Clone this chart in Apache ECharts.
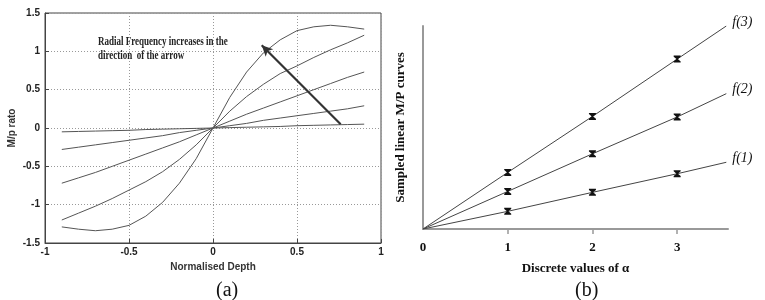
<!DOCTYPE html>
<html>
<head>
<meta charset="utf-8">
<script src="https://cdn.jsdelivr.net/npm/echarts@6/dist/echarts.min.js"></script>
<style>
  html, body { margin: 0; padding: 0; background: #fff; }
  #chart { width: 765px; height: 300px; }
</style>
</head>
<body>
<div id="chart"></div>
<script>
// panel (a): M/p ratio against normalised depth, one curve per radial frequency
const depth = [-0.9, -0.8, -0.7, -0.6, -0.5, -0.4, -0.3, -0.2, -0.1, 0, 0.1, 0.2, 0.3, 0.4, 0.5, 0.6, 0.7, 0.8, 0.9];
const curve1 = [-0.05, -0.045, -0.04, -0.035, -0.03, -0.02, -0.015, -0.01, -0.005, 0, 0.005, 0.01, 0.015, 0.02, 0.03, 0.035, 0.04, 0.045, 0.05];
const curve2 = [-0.28, -0.25, -0.22, -0.19, -0.16, -0.13, -0.10, -0.06, -0.03, 0, 0.03, 0.06, 0.10, 0.13, 0.16, 0.19, 0.22, 0.25, 0.29];
const curve3 = [-0.72, -0.65, -0.58, -0.50, -0.42, -0.34, -0.26, -0.18, -0.09, 0, 0.09, 0.18, 0.26, 0.34, 0.42, 0.50, 0.58, 0.66, 0.73];
const curve4 = [-1.20, -1.11, -1.02, -0.92, -0.81, -0.70, -0.57, -0.41, -0.22, 0, 0.22, 0.41, 0.57, 0.71, 0.81, 0.92, 1.02, 1.11, 1.21];
const curve5 = [-1.29, -1.32, -1.34, -1.32, -1.27, -1.15, -0.97, -0.72, -0.40, 0, 0.40, 0.73, 0.98, 1.15, 1.27, 1.32, 1.34, 1.32, 1.29];
const arrowFrom = [0.76, 0.05];
const arrowTo = [0.29, 1.08];

// panel (b): sampled linear M/P curves against discrete alpha
const alpha = [0, 1, 2, 3, 3.58];
const f1 = [0, 0.94, 1.95, 2.94, 3.55];
const f2 = [0, 2.0, 4.0, 5.96, 7.2];
const f3 = [0, 3.01, 5.99, 9.04, 10.8];
const alphaTicks = [1, 2, 3];
const alphaLabels = [0, 1, 2, 3];

const sans = "Liberation Sans, Arial, sans-serif";
const serif = "Liberation Serif, Times New Roman, serif";

// filled hourglass marker with bars top and bottom
const xMark = "path://M0,0L10,0L10,1.6L6,5L10,8.4L10,10L0,10L0,8.4L4,5L0,1.6Z";

const pairs = (xs, ys) => xs.map((x, i) => [x, ys[i]]);

const chart = echarts.init(document.getElementById("chart"), null, { renderer: "canvas" });

const curveSeries = [curve1, curve2, curve3, curve4, curve5].map((c, i) => ({
  name: "c" + (i + 1),
  type: "line",
  xAxisIndex: 0,
  yAxisIndex: 0,
  data: pairs(depth, c),
  showSymbol: false,
  smooth: false,
  lineStyle: { color: "#555", width: 1 },
  silent: true,
  z: 3,
}));
// arrow rides on the last curve as a markLine
curveSeries[4].markLine = {
  silent: true,
  symbol: ["none", "arrow"],
  symbolSize: [8, 11],
  label: { show: false },
  lineStyle: { color: "#333", width: 2.2, type: "solid" },
  data: [[{ coord: arrowFrom }, { coord: arrowTo }]],
};

const sampled = [
  { name: "f(1)", ys: f1 },
  { name: "f(2)", ys: f2 },
  { name: "f(3)", ys: f3 },
].map((s) => ({
  name: s.name,
  type: "line",
  xAxisIndex: 1,
  yAxisIndex: 1,
  data: pairs(alpha, s.ys),
  symbol: (v, p) => (p.dataIndex >= 1 && p.dataIndex <= 3 ? xMark : "none"),
  symbolSize: [7, 7],
  showSymbol: true,
  itemStyle: { color: "#111" },
  lineStyle: { color: "#444", width: 1 },
  endLabel: {
    show: true,
    formatter: s.name,
    fontFamily: serif,
    fontStyle: "italic",
    fontSize: 14,
    color: "#111",
    offset: [0, -4],
    distance: 6,
  },
  silent: true,
}));

const gridDots = { show: true, lineStyle: { color: "#999", type: [1, 2], width: 1 } };

chart.setOption({
  backgroundColor: "#fff",
  animation: false,
  grid: [
    { left: 45, top: 13, width: 336, height: 230, show: true, borderColor: "#444", borderWidth: 1 },
    { left: 423, top: 26, width: 305, height: 203 },
  ],
  xAxis: [
    {
      type: "value",
      gridIndex: 0,
      min: -1,
      max: 1,
      interval: 0.5,
      name: "Normalised Depth",
      nameLocation: "middle",
      nameGap: 15,
      nameTextStyle: { fontFamily: sans, fontSize: 10, fontWeight: "bold", color: "#333" },
      axisLine: { show: true, onZero: false, lineStyle: { color: "#444", width: 1 } },
      axisTick: { show: true, inside: true, length: 4, lineStyle: { color: "#444" } },
      axisLabel: { fontFamily: sans, fontSize: 10, fontWeight: "bold", color: "#222", margin: 4 },
      splitLine: gridDots,
    },
    {
      type: "value",
      gridIndex: 1,
      min: 0,
      max: 3.6,
      interval: 1,
      name: "Discrete values of \u03b1",
      nameLocation: "middle",
      nameGap: 33,
      nameTextStyle: { fontFamily: serif, fontSize: 13, fontWeight: "bold", color: "#111" },
      axisLine: { show: true, onZero: false, lineStyle: { color: "#999", width: 2 } },
      axisTick: { show: true, length: 5, customValues: alphaTicks, lineStyle: { color: "#999", width: 1.5 } },
      axisLabel: { customValues: alphaLabels, fontFamily: serif, fontSize: 13, fontWeight: "bold", color: "#111", margin: 12 },
      splitLine: { show: false },
    },
  ],
  yAxis: [
    {
      type: "value",
      gridIndex: 0,
      min: -1.5,
      max: 1.5,
      interval: 0.5,
      name: "M/p rato",
      nameLocation: "middle",
      nameGap: 28,
      nameTextStyle: { fontFamily: sans, fontSize: 10, fontWeight: "bold", color: "#333" },
      axisLine: { show: true, onZero: false, lineStyle: { color: "#444", width: 1 } },
      axisTick: { show: true, inside: true, length: 4, lineStyle: { color: "#444" } },
      axisLabel: { fontFamily: sans, fontSize: 10, fontWeight: "bold", color: "#222", margin: 5 },
      splitLine: gridDots,
    },
    {
      type: "value",
      gridIndex: 1,
      min: 0,
      max: 10.8,
      name: "Sampled linear M/P curves",
      nameLocation: "middle",
      nameGap: 16,
      nameTextStyle: { fontFamily: serif, fontSize: 13, fontWeight: "bold", color: "#111" },
      axisLine: { show: true, onZero: false, lineStyle: { color: "#999", width: 2 } },
      axisTick: { show: false },
      axisLabel: { show: false },
      splitLine: { show: false },
    },
  ],
  graphic: [
    {
      type: "text",
      left: 98,
      top: 35,
      style: {
        text: "Radial Frequency increases in the\ndirection  of the arrow",
        font: "bold 12.5px " + serif,
        lineHeight: 14,
        fill: "#222",
      },
      scaleX: 0.72,
    },
    {
      type: "text",
      left: 216,
      top: 281,
      style: { text: "(a)", font: "20px " + serif, fill: "#111" },
    },
    {
      type: "text",
      left: 575,
      top: 281,
      style: { text: "(b)", font: "20px " + serif, fill: "#111" },
    },
  ],
  series: curveSeries.concat(sampled),
});
</script>
</body>
</html>
